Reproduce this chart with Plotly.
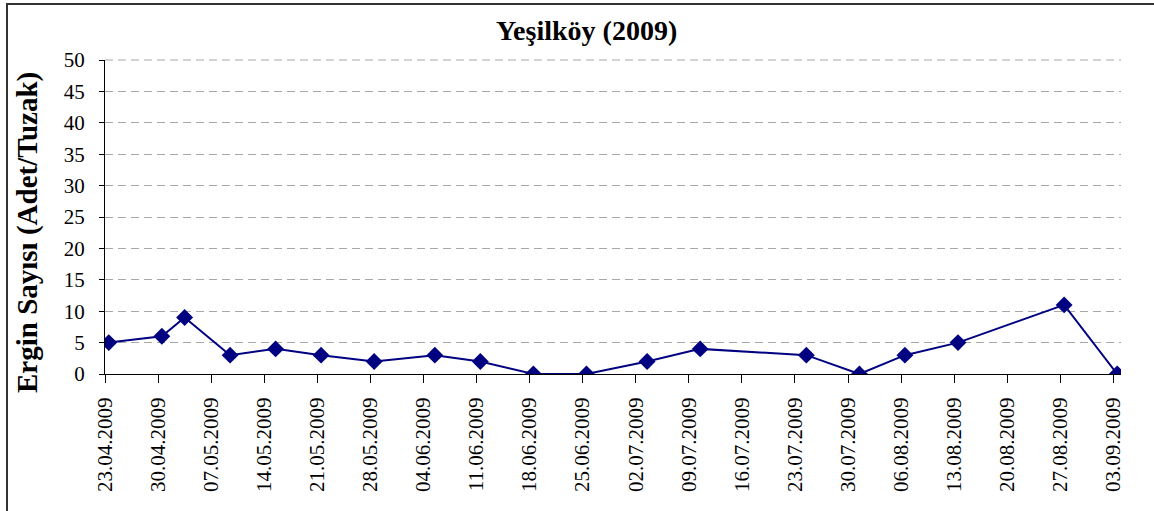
import pandas as pd
import plotly.graph_objects as go

dates = ["2009-04-23", "2009-04-30", "2009-05-03", "2009-05-09", "2009-05-15",
         "2009-05-21", "2009-05-28", "2009-06-05", "2009-06-11", "2009-06-18",
         "2009-06-25", "2009-07-03", "2009-07-10", "2009-07-24", "2009-07-31",
         "2009-08-06", "2009-08-13", "2009-08-27", "2009-09-03"]
values = [5, 6, 9, 3, 4, 3, 2, 3, 2, 0, 0, 2, 4, 3, 0, 3, 5, 11, 0]
title = "Yeşilköy (2009)"
y_title = "Ergin Sayısı (Adet/Tuzak)"
y_max = 50

# Excel date axis places each point at the middle of its day
x = pd.to_datetime(dates) + pd.Timedelta(hours=12)

W, H = 1154, 511
L, R, T, B = 105, 33, 60, 137
pw, ph = W - L - R, H - T - B
grid_color = "#a8a8a8"
grid_dash = "8px,5px"

fig = go.Figure()
fig.add_trace(go.Scatter(
    x=x, y=values, mode="lines+markers",
    line=dict(color="#000080", width=2),
    marker=dict(symbol="diamond", size=13, color="#000080"),
    showlegend=False,
))

font = "Liberation Serif"
fig.update_layout(
    width=W, height=H,
    margin=dict(l=L, r=R, t=T, b=B, pad=0),
    paper_bgcolor="white", plot_bgcolor="white",
    font=dict(family=font, color="black", size=21),
    xaxis=dict(
        type="date",
        range=["2009-04-23", "2009-09-04"],
        tick0="2009-04-23", dtick=7 * 86400000,
        tickformat="%d.%m.%Y", tickangle=-90,
        ticks="outside", ticklen=8, tickcolor="black", tickwidth=1,
        ticklabelstandoff=6,
        showline=True, linecolor="black", linewidth=1,
        showgrid=False, zeroline=False,
        tickfont=dict(size=21, family=font),
    ),
    yaxis=dict(
        range=[0, y_max], dtick=5,
        ticks="outside", ticklen=5, tickcolor="black", tickwidth=1,
        ticklabelstandoff=10,
        showline=True, linecolor="black", linewidth=1,
        showgrid=True, gridcolor=grid_color, griddash=grid_dash, gridwidth=1,
        zeroline=False,
        tickfont=dict(size=21, family=font),
    ),
)

# top gridline at the maximum of the value axis (plotly hides grid at range edge)
fig.add_shape(type="line", xref="paper", yref="paper", x0=0, x1=1, y0=1, y1=1,
              line=dict(color=grid_color, width=1, dash=grid_dash), layer="above")

fig.add_annotation(
    text="<b>" + title + "</b>", xref="paper", yref="paper",
    x=(586 - L) / pw, y=(H - B - 30) / ph, xanchor="center", yanchor="middle",
    showarrow=False, font=dict(size=28, family=font, color="black"),
)
fig.add_annotation(
    text="<b>" + y_title + "</b>", xref="paper", yref="paper",
    x=(27 - L) / pw, y=(H - B - 233) / ph, xanchor="center", yanchor="middle",
    textangle=-90, showarrow=False, font=dict(size=29, family=font, color="black"),
)

# outer chart border (only top and left edges visible in the reference)
fig.add_shape(type="rect", xref="paper", yref="paper",
              x0=(7 - L) / pw, x1=(W + 20 - L) / pw,
              y0=(H - B - (H + 20)) / ph, y1=(H - B - 4) / ph,
              line=dict(color="#333333", width=2), layer="below")

fig.write_html("out.html", config={"displayModeBar": False},
               post_script="document.body.style.margin='0';")
